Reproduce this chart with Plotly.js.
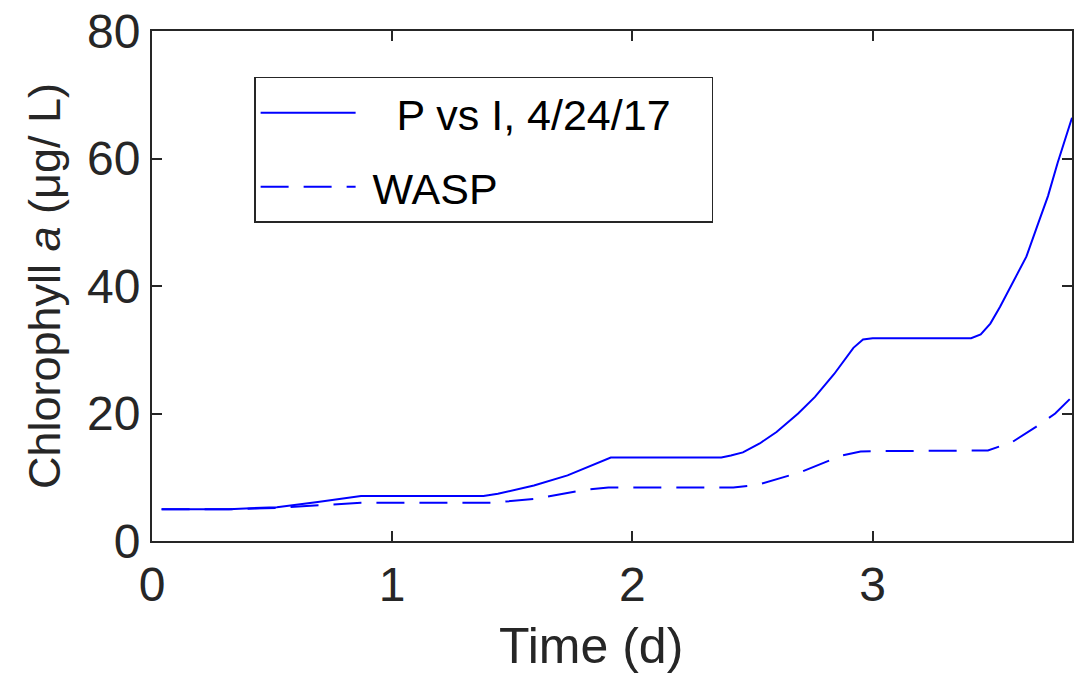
<!DOCTYPE html>
<html>
<head>
<meta charset="utf-8">
<script src="https://cdn.plot.ly/plotly-3.0.1.min.js"></script>
<style>html,body{margin:0;padding:0;background:#fff;}#chart{width:1074px;height:683px;}</style>
</head>
<body>
<div id="chart"></div>
<script>
// P vs I model, 4/24/17 (solid)
const pviTime = [0.04, 0.32, 0.52, 0.69, 0.87, 1.38, 1.44, 1.59, 1.73, 1.87, 1.91, 2.37, 2.41, 2.46, 2.53, 2.60, 2.69, 2.76, 2.84, 2.92, 2.96, 3.00, 3.41, 3.45, 3.49, 3.53, 3.58, 3.64, 3.69, 3.73, 3.77, 3.83];
const pviChl  = [5.0, 5.0, 5.3, 6.1, 7.07, 7.07, 7.4, 8.7, 10.3, 12.4, 13.1, 13.1, 13.4, 13.9, 15.3, 17.1, 20.0, 22.6, 26.2, 30.3, 31.6, 31.8, 31.8, 32.4, 34.1, 36.7, 40.2, 44.6, 49.9, 54.1, 59.3, 66.4];
// WASP model (dashed)
const waspTime = [0.04, 0.35, 0.52, 0.69, 0.87, 1.42, 1.60, 1.79, 1.90, 2.42, 2.52, 2.70, 2.87, 2.95, 3.00, 3.48, 3.58, 3.68, 3.76, 3.83];
const waspChl  = [5.0, 5.0, 5.2, 5.6, 6.0, 6.0, 6.65, 7.96, 8.4, 8.4, 8.8, 10.8, 13.4, 14.05, 14.1, 14.2, 15.5, 17.9, 20.0, 22.6];

const seriesNames = ['\u00a0\u00a0\u00a0P vs I, 4/24/17\u00a0\u00a0\u00a0', '\u00a0WASP'];
const xTicks = [0, 1, 2, 3];
const yTicks = [0, 20, 40, 60, 80];

const font = 'Liberation Sans, Arial, Helvetica, sans-serif';
const ink = '#262626';

const traces = [
  {x: pviTime, y: pviChl, name: seriesNames[0], mode: 'lines', legendgroup: 'a',
   line: {color: '#0000ff', width: 2}},
  {x: waspTime, y: waspChl, name: seriesNames[1], mode: 'lines', legendgroup: 'b',
   line: {color: '#0000ff', width: 2, dash: '28px,15px'}}
];

const axisCommon = {
  showline: true, linecolor: ink, linewidth: 2, mirror: 'ticks',
  ticks: 'inside', ticklen: 10, tickwidth: 2, tickcolor: ink,
  showgrid: false, zeroline: false,
  tickfont: {family: font, size: 48, color: ink}
};

const layout = {
  width: 1074, height: 683,
  margin: {l: 152, r: 2, t: 31, b: 142},
  paper_bgcolor: '#fff', plot_bgcolor: '#fff',
  showlegend: true,
  legend: {
    x: 0.111, y: 0.91, xanchor: 'left', yanchor: 'top',
    bgcolor: '#fff', bordercolor: ink, borderwidth: 1.5,
    font: {family: font, size: 43, color: '#000'},
    itemwidth: 95, tracegroupgap: 15
  },
  xaxis: Object.assign({}, axisCommon, {
    range: [0, 3.83], tickvals: xTicks, ticktext: xTicks.map(String),
    title: {text: 'Time (d)\u00a0\u00a0\u00a0\u200b', font: {family: font, size: 50, color: ink}, standoff: 18}
  }),
  yaxis: Object.assign({}, axisCommon, {
    range: [0, 80], tickvals: yTicks, ticktext: yTicks.map(String),
    title: {text: 'Chlorophyll <i>a</i> (μg/ L)', font: {family: font, size: 45, color: ink}, standoff: 12}
  })
};

Plotly.newPlot('chart', traces, layout, {staticPlot: true, displayModeBar: false});
</script>
</body>
</html>
